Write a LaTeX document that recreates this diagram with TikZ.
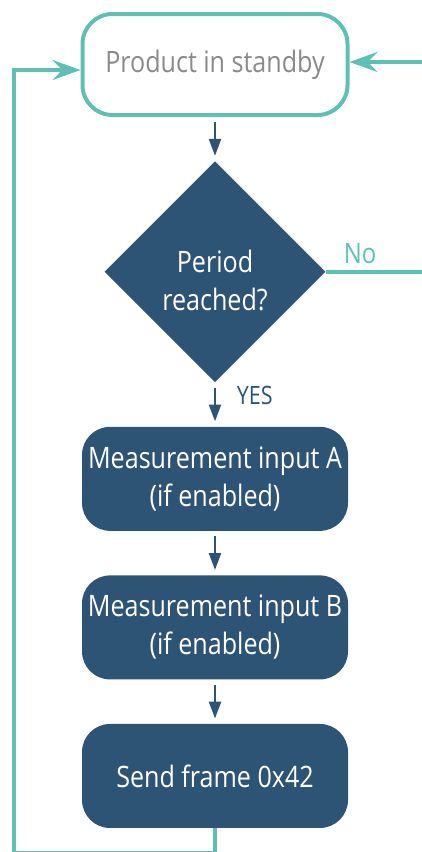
\documentclass[tikz,border=0pt]{standalone}
\usepackage{fontspec}
\setmainfont{Open Sans}[FakeStretch=0.85]
\usetikzlibrary{arrows.meta,positioning,shapes.geometric}
\definecolor{navy}{HTML}{2D5475}
\definecolor{mint}{HTML}{5EC0B3}
\definecolor{greytext}{HTML}{8A8A8A}

\begin{document}
\begin{tikzpicture}[node distance=1.1cm,>=Latex]
\tikzset{box/.style={fill=navy,text=white,rounded corners=0.7cm,minimum width=6.65cm,minimum height=2.6cm,align=center,font=\fontsize{21}{27}\selectfont}}
\tikzset{flow/.style={navy,line width=0.05cm,shorten <=0.13cm,shorten >=0.13cm,-{Triangle[length=0.42cm,width=0.3cm]}}}
\tikzset{back/.style={mint,line width=0.1cm,-{Stealth[length=0.7cm,width=0.5cm,inset=0.25cm]}}}
\useasboundingbox (0,0) rectangle (10.525,-21.3);
\node[draw=mint,line width=0.1cm,rounded corners=0.75cm,minimum width=6.625cm,minimum height=2.525cm,text=greytext,font=\fontsize{21}{27}\selectfont] (stby) at (5.375,-1.6125) {Product in standby};
\node[diamond,aspect=1,inner sep=0pt,minimum width=5.525cm,minimum height=5.525cm,fill=navy,text=white,align=center,font=\fontsize{21}{27}\selectfont,below=of stby] (per) {\rule{0pt}{28pt}Period\\reached?};
\node[box,below=of per] (mesa) {Measurement input A\\(if enabled)};
\node[box,below=of mesa] (mesb) {Measurement input B\\(if enabled)};
\node[box,below=of mesb] (send) {Send frame 0x42};
\coordinate (bot) at (0.35,-21.33);
\coordinate (lft) at (0.35,-1.75);
\coordinate (rin) at (10.6,-1.55);
\coordinate (rno) at (10.6,0);
\draw[flow] (stby) -- (per);
\draw[flow] (per) -- node[pos=0.3,right=0.45cm,inner sep=2pt,navy,font=\fontsize{18}{22}\selectfont] (yes) {YES} (mesa);
\draw[flow] (mesa) -- (mesb);
\draw[flow] (mesb) -- (send);
\draw[mint,line width=0.1cm] (per.east) -- node[pos=0.35,above,inner sep=4pt,font=\fontsize{20}{24}\selectfont] (no) {No} (per.east -| rno);
\draw[back] (send.south) |- (bot) -- (lft) -- (lft -| stby.west);
\draw[back] (rin) -- (rin -| stby.east);
\end{tikzpicture}
\end{document}
